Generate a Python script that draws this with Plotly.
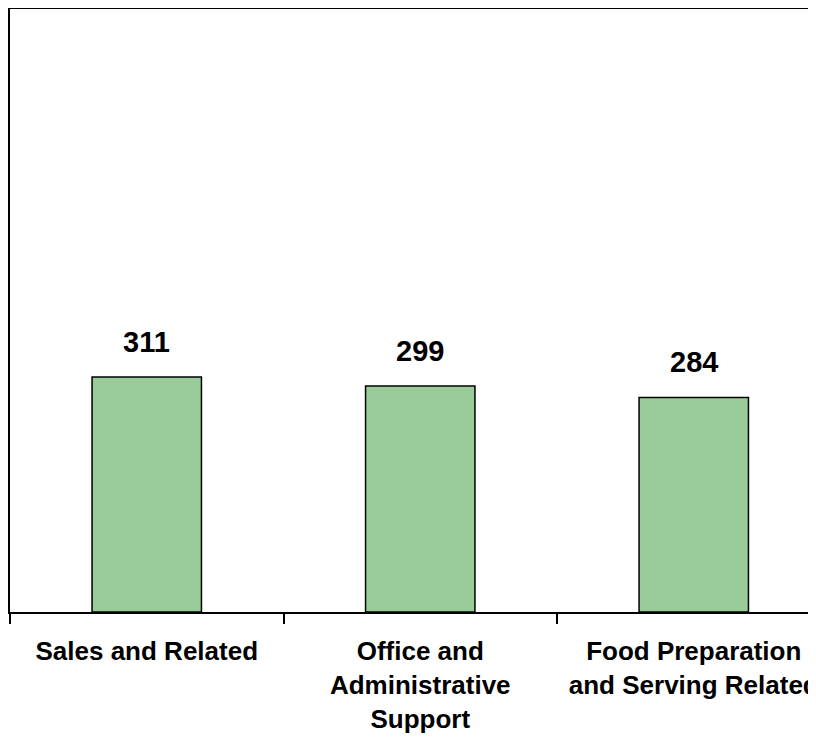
import plotly.graph_objects as go

categories = ["Sales and Related", "Office and Administrative Support", "Food Preparation and Serving Related"]
values = [311, 299, 284]
tick_labels = ["Sales and Related", "Office and<br>Administrative<br>Support", "Food Preparation<br>and Serving Related"]

FONT = "Liberation Sans, Arial, sans-serif"

fig = go.Figure()
fig.add_trace(go.Bar(
    x=categories, y=values, width=0.4,
    marker=dict(color="#99CC99", line=dict(color="black", width=1.5)),
    hoverinfo="x+y",
))

for c, v in zip(categories, values):
    fig.add_annotation(x=c, y=v, text=str(v), showarrow=False, yanchor="bottom", yshift=17,
                       font=dict(family=FONT, size=29, color="black", weight="bold"))

fig.update_layout(
    width=808, height=730,
    margin=dict(l=2, r=0, t=1, b=126, autoexpand=False),
    paper_bgcolor="white", plot_bgcolor="white",
    showlegend=False,
)
fig.update_xaxes(
    type="category", range=[-0.5, 2.447],
    tickvals=categories, ticktext=tick_labels,
    tickson="boundaries", ticks="outside", ticklen=10, tickwidth=1.5, tickcolor="black",
    ticklabelstandoff=15,
    showline=True, linecolor="black", linewidth=2, mirror=True,
    showgrid=False, zeroline=False, automargin=False, ticklabeloverflow="allow",
    tickfont=dict(family=FONT, size=26, color="black", weight="bold"),
)
fig.update_yaxes(
    range=[0, 798], showticklabels=False, ticks="",
    showline=True, linecolor="black", linewidth=2, mirror=False,
    showgrid=False, zeroline=False, automargin=False,
)

fig.write_html("out.html")
